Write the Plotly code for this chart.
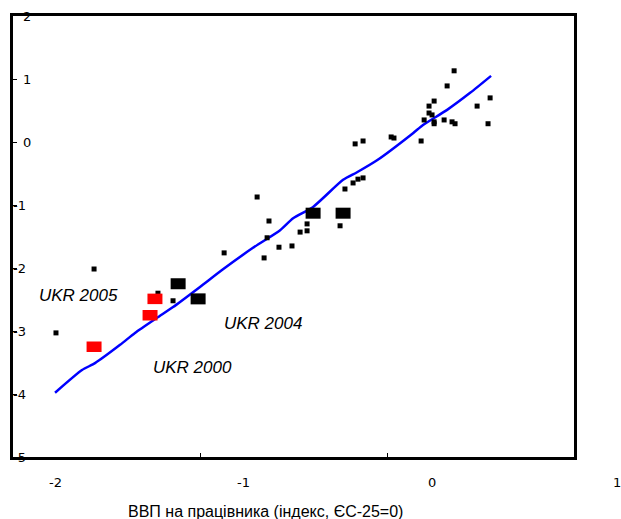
import plotly.graph_objects as go

# ---- data ----
small_x = [-1.793, -1.995, -1.454, -1.374, -0.928, -0.865, -0.875, -1.103, -0.891, -0.812,
           -0.743, -0.700, -0.663, -0.663, -0.488, -0.462, -0.419, -0.393, -0.366, -0.408,
           -0.366, -0.217, -0.202, -0.058, -0.042, -0.016, 0.011, -0.016, 0.000, 0.011,
           0.011, 0.064, 0.106, 0.122, 0.080, 0.117, 0.239, 0.308, 0.297]
small_y = [-2.016, -3.03, -2.40, -2.52, -0.873, -1.254, -1.52, -1.76, -1.84, -1.67,
           -1.65, -1.43, -1.30, -1.41, -1.33, -0.746, -0.65, -0.59, -0.57, -0.03,
           0.016, 0.08, 0.063, 0.016, 0.35, 0.57, 0.65, 0.46, 0.43, 0.32,
           0.29, 0.35, 0.32, 0.29, 0.89, 1.13, 0.57, 0.70, 0.29]

big_x = [-1.347, -1.241, -0.631, -0.472]
big_y = [-2.25, -2.49, -1.13, -1.13]

ukr_x = [-1.793, -1.470, -1.496]
ukr_y = [-3.25, -2.49, -2.75]

fit_x = [-2.0, -1.857, -1.788, -1.655, -1.576, -1.459, -1.374, -1.231, -1.109, -0.950,
         -0.806, -0.737, -0.631, -0.472, -0.398, -0.292, -0.101, -0.048, 0.080, 0.202, 0.313]
fit_y = [-3.98, -3.62, -3.51, -3.22, -3.03, -2.79, -2.62, -2.30, -2.02, -1.68,
         -1.40, -1.21, -1.03, -0.60, -0.48, -0.29, 0.14, 0.27, 0.51, 0.78, 1.05]

labels = ["UKR 2005", "UKR 2004", "UKR 2000"]
label_x = [-1.878, -0.897, -1.273]
label_y = [-2.444, -2.873, -3.587]

x_tick_vals = [-2, -1, 0, 1]
x_tick_text = ["-2", "-1", "0", "1"]
y_tick_vals = [2, 1, 0, -1, -2, -3, -4, -5]
y_tick_text = ["2", "1", "0", "-1", "-2", "-3", "-4", "-5"]

x_title = "ВВП на працівника (індекс, ЄС-25=0)"

x_range = [-2.223, 0.753]
y_range = [-5, 2]

fig = go.Figure()
fig.add_trace(go.Scatter(x=fit_x, y=fit_y, mode="lines",
                         line=dict(color="#0000FF", width=2.5, shape="spline", smoothing=0.6),
                         hoverinfo="skip"))
fig.add_trace(go.Scatter(x=small_x, y=small_y, mode="markers",
                         marker=dict(symbol="square", size=5, color="black", line=dict(width=0))))
# line-ew symbol length is 1.4 * size -> ~15 px wide rectangles
fig.add_trace(go.Scatter(x=big_x, y=big_y, mode="markers",
                         marker=dict(symbol="line-ew", size=10.7, color="black",
                                     line=dict(width=11, color="black"))))
fig.add_trace(go.Scatter(x=ukr_x, y=ukr_y, mode="markers",
                         marker=dict(symbol="line-ew", size=10.7, color="#FF0000",
                                     line=dict(width=10.5, color="#FF0000"))))

span = x_range[1] - x_range[0]
ann = []
for t, x, y in zip(labels, label_x, label_y):
    ann.append(dict(x=x, y=y, xref="x", yref="y", text="<i>" + t + "</i>", showarrow=False,
                    xanchor="center", yanchor="middle",
                    font=dict(family="Liberation Sans, Arial", size=17, color="black")))
for v, t in zip(x_tick_vals, x_tick_text):
    ann.append(dict(x=(v - x_range[0]) / span, y=0, xref="paper", yref="paper", yshift=-25,
                    xshift=(-4 if v == 1 else 0),
                    text=t, showarrow=False, xanchor="center", yanchor="middle",
                    font=dict(family="DejaVu Sans", size=13, color="black")))
for v, t in zip(y_tick_vals, y_tick_text):
    ann.append(dict(x=0, y=v, xref="paper", yref="y", xshift=(15 if v < 0 else 20), text=t,
                    showarrow=False, xanchor="right", yanchor="middle",
                    font=dict(family="DejaVu Sans", size=13, color="black")))
ann.append(dict(x=0.450, y=0, xref="paper", yref="paper", yshift=-54, text=x_title,
                showarrow=False, xanchor="center", yanchor="middle",
                font=dict(family="Liberation Sans, Arial", size=16, color="black")))

fig.update_layout(
    width=621, height=519,
    margin=dict(l=13, r=47, t=16, b=62),
    paper_bgcolor="white", plot_bgcolor="white",
    showlegend=False,
    annotations=ann,
    xaxis=dict(range=x_range, showgrid=False, zeroline=False, showline=True, mirror=True,
               linecolor="black", linewidth=3, ticks="inside", ticklen=4, tickwidth=1,
               tickcolor="black", tickmode="linear", tick0=x_range[0],
               dtick=span / 3, showticklabels=False),
    yaxis=dict(range=y_range, showgrid=False, zeroline=False, showline=True, mirror=True,
               linecolor="black", linewidth=3, ticks="inside", ticklen=4, tickwidth=1,
               tickcolor="black", tickmode="array", tickvals=y_tick_vals,
               showticklabels=False),
)

fig.write_html("out.html")
